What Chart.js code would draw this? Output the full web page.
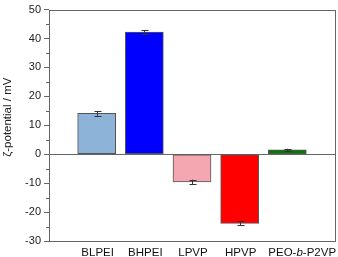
<!DOCTYPE html>
<html>
<head>
<meta charset="utf-8">
<script src="https://cdn.jsdelivr.net/npm/chart.js@4/dist/chart.umd.min.js"></script>
<style>
  html, body { margin: 0; padding: 0; background: #fff; }
  #wrap { width: 338px; height: 257px; }
</style>
</head>
<body>
<div id="wrap"><canvas id="zeta"></canvas></div>
<script>
// values
const samples = ["BLPEI", "BHPEI", "LPVP", "HPVP", "PEO-b-P2VP"];
const zeta = [14.1, 42.2, -9.6, -23.9, 1.5];
const zetaErr = [0.8, 0.6, 0.8, 0.7, 0.4];
const barColors = ["#8db3d9", "#0000ff", "#f4a7b0", "#ff0000", "#007a00"];
const yTicks = [-30, -20, -10, 0, 10, 20, 30, 40, 50];
const yMinorTicks = [-25, -15, -5, 5, 15, 25, 35, 45];
const yTitle = "ζ-potential / mV";

const FONT = "Arial, 'Liberation Sans', sans-serif";

// padding slots on both ends so the bars sit like in the original
const labels = ["", ...samples, ""];
const data = [null, ...zeta, null];

// frame, minor ticks, error bars, axis title and x labels
const decorations = {
  id: "decorations",
  afterDatasetsDraw(chart) {
    const { ctx, chartArea: a, scales: { x, y } } = chart;
    ctx.save();

    // error bars
    ctx.strokeStyle = "#333";
    ctx.lineWidth = 1;
    zeta.forEach((v, i) => {
      const px = Math.round(x.getPixelForValue(i + 1)) + 0.5;
      const top = y.getPixelForValue(v + zetaErr[i]);
      const bot = y.getPixelForValue(v - zetaErr[i]);
      ctx.beginPath();
      ctx.moveTo(px, top); ctx.lineTo(px, bot);
      ctx.moveTo(px - 3, Math.round(top) + 0.5); ctx.lineTo(px + 4, Math.round(top) + 0.5);
      ctx.moveTo(px - 3, Math.round(bot) + 0.5); ctx.lineTo(px + 4, Math.round(bot) + 0.5);
      ctx.stroke();
    });

    // plot frame
    ctx.strokeStyle = "#666";
    ctx.strokeRect(Math.round(a.left) + 0.5, Math.round(a.top) + 0.5,
      Math.round(a.right - a.left), Math.round(a.bottom - a.top));

    // minor ticks
    ctx.beginPath();
    yMinorTicks.forEach(v => {
      const py = Math.round(y.getPixelForValue(v)) + 0.5;
      ctx.moveTo(a.left - 3, py); ctx.lineTo(a.left, py);
    });
    ctx.stroke();

    // y title, a bit above the middle like the original
    ctx.fillStyle = "#222";
    ctx.font = "11.5px " + FONT;
    ctx.textAlign = "center";
    ctx.textBaseline = "middle";
    ctx.translate(8, a.top + (a.bottom - a.top) * 0.465);
    ctx.rotate(-Math.PI / 2);
    ctx.fillText(yTitle, 0, 0);
    ctx.setTransform(1, 0, 0, 1, 0, 0);

    // x labels, with the italic b in the block copolymer
    ctx.fillStyle = "#111";
    ctx.textBaseline = "alphabetic";
    const ly = a.bottom + 15;
    samples.forEach((s, i) => {
      const cx = x.getPixelForValue(i + 1);
      if (s === "PEO-b-P2VP") {
        const parts = [["PEO-", ""], ["b", "italic "], ["-P2VP", ""]];
        let sx = cx - 19;
        ctx.textAlign = "left";
        parts.forEach(([t, st]) => {
          ctx.font = st + "11.5px " + FONT;
          ctx.fillText(t, sx, ly);
          sx += ctx.measureText(t).width;
        });
      } else {
        ctx.font = "11.5px " + FONT;
        ctx.textAlign = "center";
        ctx.fillText(s, cx + 1, ly);
      }
    });
    ctx.restore();
  }
};

new Chart(document.getElementById("zeta"), {
  type: "bar",
  data: {
    labels: labels,
    datasets: [{
      data: data,
      backgroundColor: ["", ...barColors, ""],
      borderColor: "#555",
      borderWidth: 1,
      borderSkipped: false,
      barThickness: 38
    }]
  },
  options: {
    responsive: true,
    maintainAspectRatio: false,
    animation: false,
    layout: { padding: { top: 9, right: 3, left: 0, bottom: 0 } },
    plugins: {
      legend: { display: false },
      tooltip: { enabled: false }
    },
    scales: {
      x: {
        offset: false,
        grid: { display: false },
        border: { display: false },
        ticks: { display: false },
        afterFit(s) { s.height = 16; }
      },
      y: {
        min: -30,
        max: 50,
        afterBuildTicks(s) { s.ticks = yTicks.map(v => ({ value: v })); },
        border: { display: false },
        grid: {
          drawOnChartArea: true,
          tickLength: 5,
          color: c => c.tick && c.tick.value === 0 ? "#666" : "rgba(0,0,0,0)",
          tickColor: "#666"
        },
        ticks: {
          color: "#222",
          padding: 3,
          font: { family: FONT, size: 11 }
        },
        afterFit(s) { s.width = 49; }
      }
    }
  },
  plugins: [decorations]
});
</script>
</body>
</html>
